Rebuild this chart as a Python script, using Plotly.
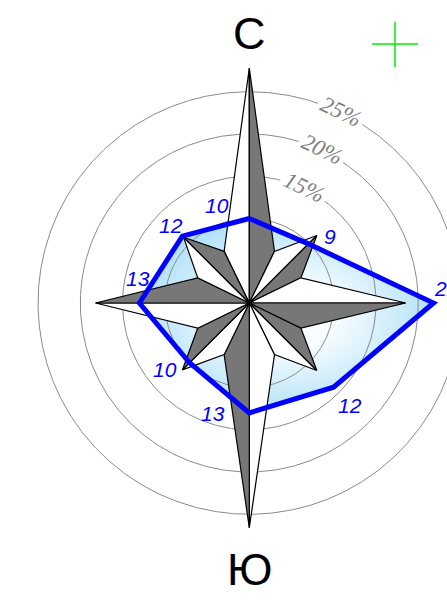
import numpy as np
import plotly.graph_objects as go

# ---- data ----
directions = ["N", "NE", "E", "SE", "S", "SW", "W", "NW"]
direction_angles = [0, 45, 90, 135, 180, 225, 270, 315]
frequency = [10.0, 9.9, 21.8, 14.1, 13.0, 10.0, 13.0, 11.2]
frequency_labels = ["10", "9", "22", "12", "13", "10", "13", "12"]
ring_values = [5, 10, 15, 20, 25]
ring_label_values = [15, 20, 25]
ring_label_texts = ["15%", "20%", "25%"]
rose_lengths = [27.8, 11.3, 18.5, 11.3, 26.6, 11.2, 18.2, 11.0]
rose_notch_angles = [26, 64, 116, 154, 206, 244, 296, 334]
rose_gray_side = ["cw", "cw", "cw", "ccw", "cw", "cw", "cw", "cw"]
rose_notch_radius = 6.8
compass_letters = ["С", "Ю"]

# label placement (polar: radius in %, angle in deg clockwise from north)
label_r = [12.2, 12.36, 23.43, 16.96, 13.73, 12.7, 13.46, 13.1]
label_a = [341.8, 50.6, 85.7, 135.4, 198.1, 231.8, 282.5, 314.8]


def pol(r, a):
    t = np.radians(a)
    return r * np.sin(t), r * np.cos(t)


K = 8.45  # px per percent
CX, CY = 249.3, 303.0
W, H = 447, 602
xr = [-CX / K, (W - CX) / K]
yr = [-(H - CY) / K, CY / K]

fig = go.Figure()

# gradient fill of frequency polygon
fx, fy = pol(np.array(frequency + frequency[:1]), np.array(direction_angles + direction_angles[:1]))
fig.add_trace(go.Scatter(
    x=fx, y=fy, mode="lines", fill="toself",
    fillgradient=dict(type="radial",
                      colorscale=[[0, "#ffffff"], [0.35, "#f6fcff"], [1, "#b3e2f7"]]),
    line=dict(width=0), hoverinfo="skip"))

# rings
tt = np.linspace(0, 360, 721)
for rv in ring_values:
    cx_, cy_ = pol(rv, tt)
    fig.add_trace(go.Scatter(x=cx_, y=cy_, mode="lines",
                             line=dict(color="#8a8a8a", width=1), hoverinfo="skip"))

# compass rose
for i, d in enumerate(direction_angles):
    tipx, tipy = pol(rose_lengths[i], d)
    cwx, cwy = pol(rose_notch_radius, rose_notch_angles[i])
    ccwx, ccwy = pol(rose_notch_radius, rose_notch_angles[i - 1])
    if rose_gray_side[i] == "cw":
        gx, gy, wx, wy = cwx, cwy, ccwx, ccwy
    else:
        gx, gy, wx, wy = ccwx, ccwy, cwx, cwy
    fig.add_trace(go.Scatter(x=[0, wx, tipx, 0], y=[0, wy, tipy, 0], mode="lines",
                             fill="toself", fillcolor="#ffffff",
                             line=dict(color="#000000", width=1.2), hoverinfo="skip"))
    fig.add_trace(go.Scatter(x=[0, tipx, gx, 0], y=[0, tipy, gy, 0], mode="lines",
                             fill="toself", fillcolor="#777777",
                             line=dict(color="#000000", width=1.2), hoverinfo="skip"))

# frequency outline
fig.add_trace(go.Scatter(x=fx, y=fy, mode="lines",
                         line=dict(color="#0000ff", width=5), hoverinfo="skip"))

ann = []
for txt, r, a in zip(frequency_labels, label_r, label_a):
    x, y = pol(r, a)
    ann.append(dict(x=x, y=y, text=txt, showarrow=False, xanchor="center", yanchor="middle",
                    font=dict(family="Liberation Sans, Arial", size=21, color="#0000ff", style="italic")))

for v, txt in zip(ring_label_values, ring_label_texts):
    x, y = pol(v + 0.1, 25.5)
    ann.append(dict(x=x, y=y, text=txt, showarrow=False, xanchor="center", yanchor="middle",
                    textangle=25.5, bgcolor="#ffffff", borderpad=3,
                    font=dict(family="Liberation Serif, Times New Roman", size=23, color="#7f7f7f",
                              style="italic")))

ann.append(dict(x=0, y=(CY - 33) / K, text=compass_letters[0], showarrow=False,
                xanchor="center", yanchor="middle",
                font=dict(family="Liberation Sans, Arial", size=45, color="#000000")))
ann.append(dict(x=0, y=-(569 - CY) / K, text=compass_letters[1], showarrow=False,
                xanchor="center", yanchor="middle",
                font=dict(family="Liberation Sans, Arial", size=45, color="#000000")))

shapes = [
    dict(type="line", xref="paper", yref="paper", x0=372 / W, x1=418 / W, y0=1 - 44 / H, y1=1 - 44 / H,
         line=dict(color="#00ee00", width=1.5)),
    dict(type="line", xref="paper", yref="paper", x0=395 / W, x1=395 / W, y0=1 - 22 / H, y1=1 - 67 / H,
         line=dict(color="#00ee00", width=1.5)),
]

fig.update_layout(
    width=W, height=H, autosize=False,
    margin=dict(l=0, r=0, t=0, b=0),
    paper_bgcolor="#ffffff", plot_bgcolor="#ffffff",
    showlegend=False,
    xaxis=dict(range=xr, visible=False, fixedrange=True),
    yaxis=dict(range=yr, visible=False, fixedrange=True),
    annotations=ann, shapes=shapes,
)

fig.write_html("out.html", config={"displayModeBar": False, "staticPlot": True},
               post_script="document.body.style.margin='0';document.body.style.overflow='hidden';")
